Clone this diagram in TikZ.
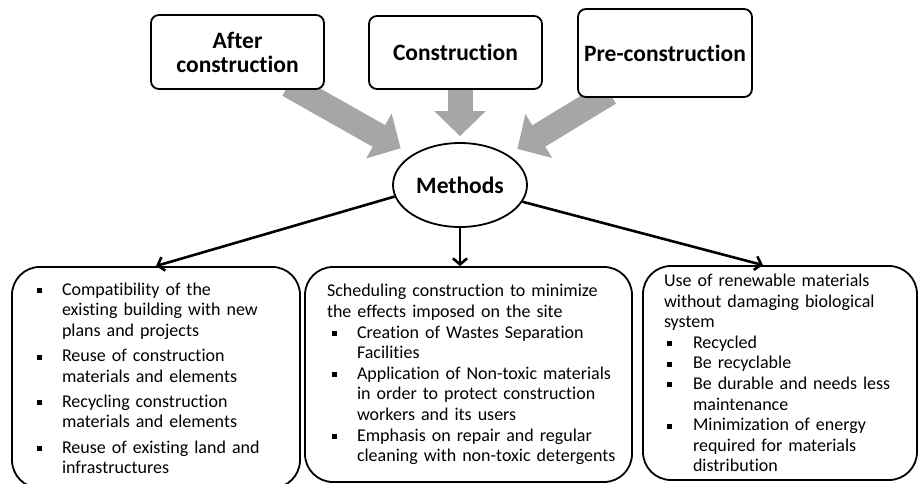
\documentclass[tikz,border=0pt]{standalone}
\usepackage{fontspec}
\setmainfont{Carlito}[Ligatures=NoCommon]
\usepackage{xcolor}
\usepackage{tikz}
\usetikzlibrary{shapes.geometric,arrows.meta,backgrounds}

\definecolor{feedgray}{RGB}{166,166,166}
\newlength{\bulgap}
\newlength{\bulind}
\newcommand{\sqbullet}{\rule[0.25ex]{5pt}{5pt}}
\newcommand{\bitem}[1]{\par\hangindent=\bulind\hangafter=1\noindent\makebox[\bulind][l]{\hspace{\bulgap}\sqbullet}#1\par}
\newcommand{\nohyph}{\hyphenpenalty=10000\relax\exhyphenpenalty=10000\relax}

\begin{document}
\begin{tikzpicture}[x=1pt, y=-1pt, line join=round,
  phase/.style={draw, fill=white, line width=1.8pt, rounded corners=8pt, align=center,
    font=\bfseries\fontsize{23.5}{24}\selectfont},
  pool/.style={draw, fill=white, line width=1.8pt, rounded corners=28pt, align=left,
    font=\fontsize{18}{20.6}\selectfont},
  feed/.style={draw=feedgray, line width=25pt, -{Triangle[width=50pt,length=25pt]}},
  link/.style={draw, line width=2.6pt, -{Straight Barb[length=6pt,width=14pt]}}]
  \useasboundingbox (0,0) rectangle (918,483);

  % phases
  \node[phase, minimum width=173pt, minimum height=74pt] (after) at (237.5,52) {After\\construction};
  \node[phase, minimum width=173pt, minimum height=73pt] (constr) at (455.5,52.5) {Construction};
  \node[phase, minimum width=174pt, minimum height=88pt] (precon) at (665,53) {Pre-construction};

  \node[draw, fill=white, ellipse, line width=1.8pt, minimum width=134pt, minimum height=84pt,
    inner sep=0pt, font=\bfseries\fontsize{23.5}{24}\selectfont] (methods) at (460,185) {Methods};

  % method groups
  \node[pool, minimum width=288pt, minimum height=209pt, text width=262pt, inner xsep=13pt] (reuse) at (156,377.5) {%
    \nohyph\setlength{\bulgap}{12pt}\setlength{\bulind}{37pt}\setlength{\parskip}{4.5pt}%
    \bitem{Compatibility of the\newline existing building with new\newline plans and projects}
    \bitem{Reuse of construction\newline materials and elements}
    \bitem{Recycling construction\newline materials and elements}
    \bitem{Reuse of existing land and\newline infrastructures}
    \vspace{-14pt}\noindent\rule{0pt}{0pt}};
  \node[pool, minimum width=327pt, minimum height=215pt, text width=311pt, inner xsep=8pt] (sched) at (468.5,374.5) {%
    \nohyph\setlength{\leftskip}{14pt}\setlength{\bulgap}{5pt}\setlength{\bulind}{30pt}\setlength{\parskip}{0pt}%
    \noindent Scheduling construction to minimize\newline
    the effects imposed on the site\par
    \bitem{Creation of Wastes Separation\newline Facilities}
    \bitem{Application of Non-toxic materials\newline in order to protect construction\newline workers and its users}
    \bitem{Emphasis on repair and regular\newline cleaning with non-toxic detergents}};
  \node[pool, minimum width=274pt, minimum height=214pt, text width=232pt, inner xsep=21pt] (renew) at (780,373) {%
    \nohyph\setlength{\bulgap}{3pt}\setlength{\bulind}{29pt}\setlength{\parskip}{0pt}%
    \noindent Use of renewable materials\newline without damaging biological\newline system\par
    \bitem{Recycled}
    \bitem{Be recyclable}
    \bitem{Be durable and needs less\newline maintenance}
    \bitem{Minimization of energy\newline required for materials\newline distribution}};

  % grey arrows into the methods
  \begin{scope}[on background layer]
    \draw[feed, shorten >=13pt] ([xshift=51pt,yshift=5pt]after.south) -- (methods.north west);
    \draw[feed, shorten >=6pt] ([yshift=5pt]constr.south -| methods.north) -- (methods.north);
    \draw[feed, shorten >=11pt] ([xshift=-55.5pt,yshift=5pt]precon.south) -- (methods.north east);
  \end{scope}

  % methods to groups
  \draw[link] (methods.190) -- (reuse.north);
  \draw[link] (methods.south) -- (methods.south |- sched.north);
  \draw[link] (methods.-15) -- ([xshift=-17pt]renew.north);
\end{tikzpicture}
\end{document}
